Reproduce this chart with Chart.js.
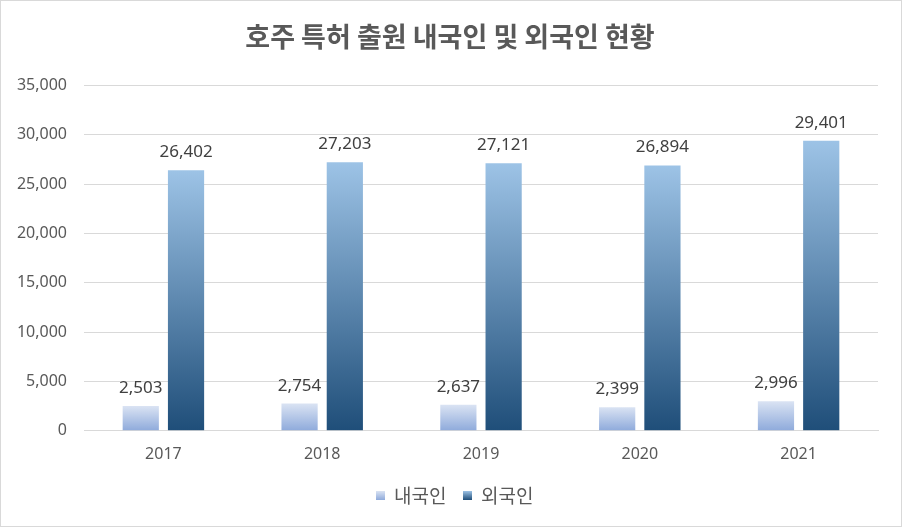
<!DOCTYPE html>
<html><head><meta charset="utf-8">
<script src="https://cdn.jsdelivr.net/npm/chart.js@4"></script>
<style>
html,body{margin:0;padding:0;background:#fff;}
#wrap{position:relative;width:900px;height:525px;border:1px solid #d9d9d9;}
</style></head>
<body><div id="wrap"><canvas id="c" width="900" height="525"></canvas></div>
<script>
const years = ['2017','2018','2019','2020','2021'];
const domestic = [2503, 2754, 2637, 2399, 2996];
const foreign = [26402, 27203, 27121, 26894, 29401];
const seriesNames = ['내국인','외국인'];
const titleText = '호주 특허 출원 내국인 및 외국인 현황';

const KR = '"Noto Sans CJK KR", "Noto Sans", sans-serif';
const NUM = '"Noto Sans", "Noto Sans CJK KR", sans-serif';
const colDom = ['#dae3f3', '#8eaadb'];
const colFor = ['#9dc3e6', '#1f4e79'];
const TITLE_SIZE = 27, TITLE_PAD_TOP = 12;

function gradFill(top, bottom){
  return function(ctx){
    const chart = ctx.chart;
    const area = chart.chartArea;
    if(!area || ctx.type !== 'data') return bottom;
    const y = chart.scales.y;
    const v = ctx.parsed ? ctx.parsed.y : ctx.raw;
    const y0 = y.getPixelForValue(0);
    const y1 = y.getPixelForValue(v);
    if(!isFinite(y0) || !isFinite(y1) || y0 === y1) return bottom;
    const g = chart.ctx.createLinearGradient(0, y1, 0, y0);
    g.addColorStop(0, top);
    g.addColorStop(1, bottom);
    return g;
  };
}

function swatch(cols){
  const cv = document.createElement('canvas');
  cv.width = 9; cv.height = 9;
  const x = cv.getContext('2d');
  const g = x.createLinearGradient(0, 0, 0, 9);
  g.addColorStop(0, cols[0]); g.addColorStop(1, cols[1]);
  x.fillStyle = g; x.fillRect(0, 0, 9, 9);
  return cv;
}
const swatches = [swatch(colDom), swatch(colFor)];

const labelPlugin = {
  id: 'vals',
  afterLayout(chart){
    const lg = chart.legend;
    if(lg){ lg.left += 15; lg.right += 15; }
  },
  afterDatasetsDraw(chart){
    const c = chart.ctx;
    c.save();
    c.font = '17px ' + NUM;
    c.fillStyle = '#404040';
    c.textAlign = 'center';
    c.textBaseline = 'alphabetic';
    chart.data.datasets.forEach((ds, i) => {
      const meta = chart.getDatasetMeta(i);
      meta.data.forEach((el, j) => {
        c.fillText(ds.data[j].toLocaleString('en-US'), el.x, el.y - 13);
      });
    });
    c.restore();
  },
  afterDraw(chart){
    const tb = chart.titleBlock;
    if(!tb) return;
    const c = chart.ctx;
    c.save();
    c.font = 'bold ' + TITLE_SIZE + 'px ' + KR;
    c.fillStyle = '#595959';
    c.textAlign = 'center';
    c.textBaseline = 'middle';
    c.fillText(titleText, 449, tb.top + TITLE_PAD_TOP + TITLE_SIZE * 1.2 / 2);
    c.restore();
  }
};

new Chart(document.getElementById('c'), {
  type: 'bar',
  data: {
    labels: years,
    datasets: [
      {label: seriesNames[0], data: domestic,
       backgroundColor: gradFill(colDom[0], colDom[1]),
       categoryPercentage: 0.57, barPercentage: 0.8},
      {label: seriesNames[1], data: foreign,
       backgroundColor: gradFill(colFor[0], colFor[1]),
       categoryPercentage: 0.57, barPercentage: 0.8}
    ]
  },
  options: {
    responsive: false,
    animation: false,
    layout: {padding: {left: 0, right: 23, top: 8, bottom: 11}},
    plugins: {
      title: {display: true, text: titleText, color: 'rgba(0,0,0,0)',
        font: {family: KR, size: TITLE_SIZE, weight: 'bold'}, padding: {top: TITLE_PAD_TOP, bottom: 32}},
      legend: {position: 'bottom',
        labels: {color: '#595959', font: {family: KR, size: 19}, boxWidth: 9, boxHeight: 9,
          usePointStyle: true, padding: 16,
          generateLabels(chart){
            return chart.data.datasets.map((d, i) => ({
              text: d.label, fillStyle: colFor[0], strokeStyle: 'rgba(0,0,0,0)', lineWidth: 0,
              pointStyle: swatches[i], hidden: false, datasetIndex: i, fontColor: '#595959'
            }));
          }}},
      tooltip: {enabled: false}
    },
    scales: {
      x: {grid: {display: false}, border: {display: true, color: '#d9d9d9'},
        ticks: {color: '#595959', font: {family: NUM, size: 16}, padding: 6}},
      y: {min: 0, max: 35000, border: {display: false},
        grid: {color: '#d9d9d9', drawTicks: false},
        afterFit(scale){ scale.width = 83; },
        ticks: {stepSize: 5000, color: '#595959', font: {family: NUM, size: 16}, padding: 17,
          callback: v => v.toLocaleString('en-US')}}
    }
  },
  plugins: [labelPlugin]
});
</script></body></html>
